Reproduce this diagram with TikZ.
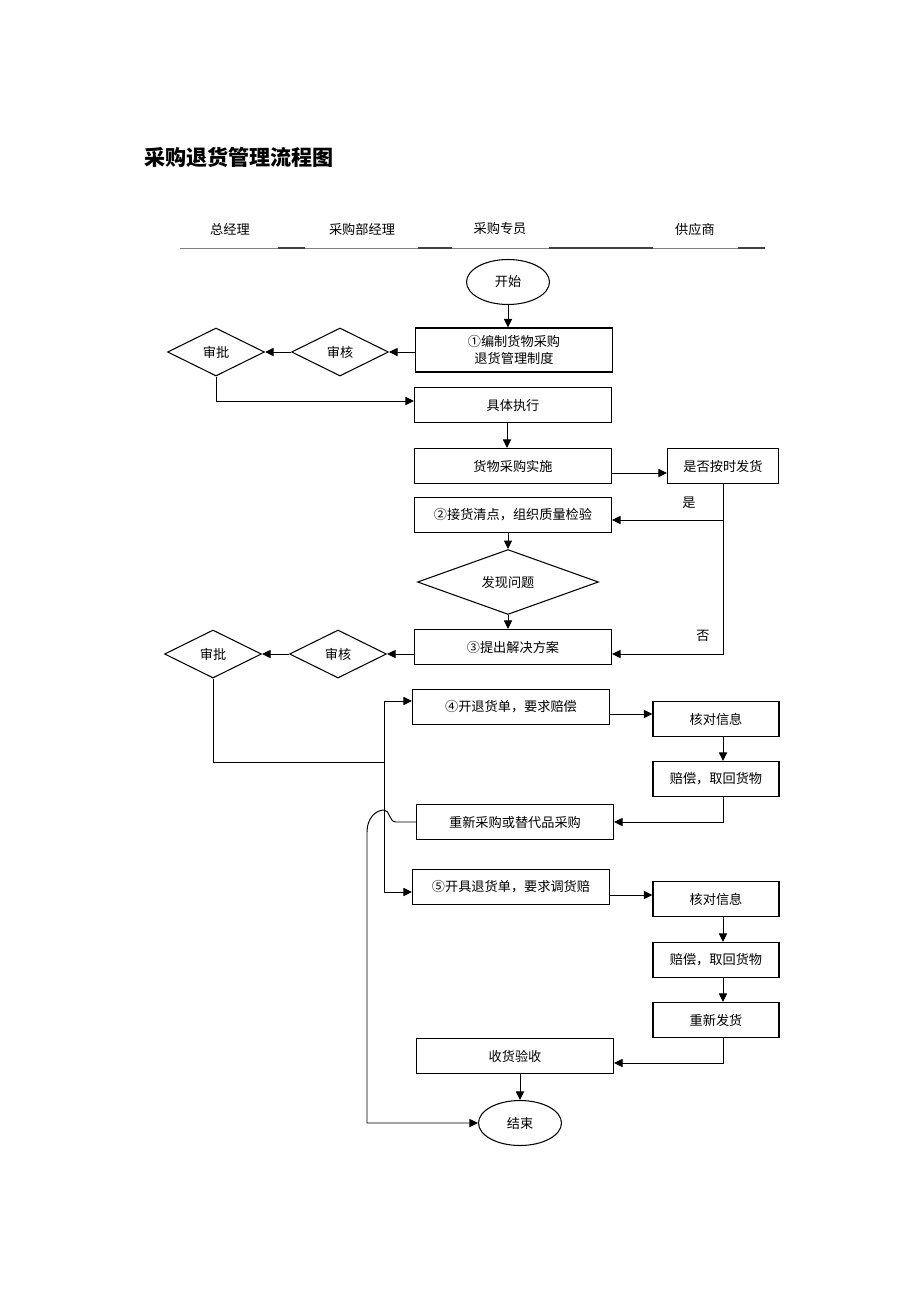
\documentclass[tikz,border=0pt]{standalone}
\usepackage{fontspec}
\setmainfont{Noto Sans CJK SC}
\usepackage{tikz}
\usetikzlibrary{shapes.geometric, arrows.meta, positioning, calc}

\begin{document}
\begin{tikzpicture}[x=0.02cm, y=-0.02cm,
    txt/.style={font=\fontsize{7.5}{10}\selectfont},
    stepbox/.style={rectangle, draw=black, line width=0.6pt, minimum width=3.94cm, minimum height=0.7cm, inner sep=0pt, align=center, txt},
    supbox/.style={rectangle, draw=black, line width=0.6pt, minimum width=2.52cm, minimum height=0.7cm, inner sep=0pt, txt},
    check/.style={diamond, draw=black, line width=0.6pt, minimum width=1.94cm, minimum height=0.96cm, inner sep=0pt, txt},
    terminal/.style={ellipse, draw=black, line width=0.6pt, minimum width=1.66cm, minimum height=0.9cm, inner sep=0pt, txt},
    arrow/.style={-{Triangle[length=1.7mm, width=1.6mm]}, line width=0.55pt}
]
\useasboundingbox (0,0) rectangle (920,1302);

% Title and lanes
\node[anchor=west, font=\fontsize{12}{14}\selectfont\bfseries] (title) at (138,157) {采购退货管理流程图};
\node[txt] (lane-gm) at (230,229) {总经理};
\node[txt] (lane-head) at (362,229) {采购部经理};
\node[txt] (lane-clerk) at (500,229) {采购专员};
\node[txt] (lane-sup) at (695,229) {供应商};
\draw[gray, line width=0.5pt] (180,248) -- (765,248);
\foreach \a/\b in {278/305, 418/452, 549/653, 738/765}
    \draw[black!75, line width=1pt] (\a,248) -- (\b,248);

% Start and rules
\node[terminal] (start) at (508,282) {开始};
\node[stepbox, minimum height=0.88cm] (rules) at (514,350) {①编制货物采购\\退货管理制度};
\node[check] (review1) at (340,352) {审核};
\node[check] (approve1) at (216,352) {审批};
\node[stepbox] (exec) at (513,405) {具体执行};
\node[stepbox] (purchase) at (513,466) {货物采购实施};
\node[supbox, minimum width=2.22cm] (ontime) at (723,466) {是否按时发货};

\draw[arrow] (start.south) -- (start.south |- rules.north);
\draw[arrow] (rules.west |- review1.east) -- (review1.east);
\draw[arrow] (review1.west) -- (approve1.east);
\draw[arrow] (approve1.south) |- ([yshift=0.08cm]exec.west);
\draw[arrow] ([xshift=-0.12cm]exec.south) -- ([xshift=-0.12cm]purchase.north);
\draw[arrow] ([yshift=-0.14cm]purchase.east) -- ([yshift=-0.14cm]ontime.west);

% Receiving and inspection
\node[stepbox] (receive) at (513,515) {②接货清点，组织质量检验};
\node[check, minimum width=3.62cm] (problem) at (508,582) {发现问题};
\node[stepbox] (solve) at (513,647) {③提出解决方案};
\node[check] (review2) at (338,654) {审核};
\node[check] (approve2) at (213,654) {审批};

\draw[arrow] (ontime.south) |- ([yshift=-0.1cm]receive.east);
\node[txt] (yes) at (689,503) {是};
\draw[arrow] (ontime.south) |- ([yshift=-0.14cm]solve.east);
\node[txt] (no) at (703,636) {否};
\draw[arrow] (receive.south -| problem.north) -- (problem.north);
\draw[arrow] (problem.south) -- (problem.south |- solve.north);
\draw[arrow] (solve.west |- review2.east) -- (review2.east);
\draw[arrow] (review2.west) -- (approve2.east);

% Return with compensation
\coordinate (split) at (384,762);
\node[stepbox] (return1) at (511,707) {④开退货单，要求赔偿};
\node[supbox] (verify1) at (716,719) {核对信息};
\node[supbox] (repay1) at (716,779) {赔偿，取回货物};
\node[stepbox] (rebuy) at (515,822) {重新采购或替代品采购};

\draw (approve2.south) |- (split);
\draw[arrow] (split) |- ([yshift=0.12cm]return1.west);
\draw[arrow] ([yshift=-0.14cm]return1.east) -- ([yshift=-0.14cm]return1.east -| verify1.west);
\draw[arrow] ([xshift=0.14cm]verify1.south) -- ([xshift=0.14cm]repay1.north);
\draw[arrow] ([xshift=0.14cm]repay1.south) |- (rebuy.east);

% Return with exchange
\node[stepbox] (return2) at (511,887) {⑤开具退货单，要求调货赔};
\node[supbox] (verify2) at (716,899) {核对信息};
\node[supbox] (repay2) at (716,960) {赔偿，取回货物};
\node[supbox] (resend) at (716,1020) {重新发货};
\node[stepbox] (accept) at (515,1056) {收货验收};
\node[terminal] (finish) at (520,1123) {结束};

\draw[arrow] (split) |- ([yshift=-0.1cm]return2.west);
\draw[arrow] ([yshift=-0.16cm]return2.east) -- ([yshift=-0.16cm]return2.east -| verify2.west);
\draw[arrow] ([xshift=0.14cm]verify2.south) -- ([xshift=0.14cm]repay2.north);
\draw[arrow] ([xshift=0.14cm]repay2.south) -- ([xshift=0.14cm]resend.north);
\draw[arrow] ([xshift=0.14cm]resend.south) |- ([yshift=-0.14cm]accept.east);
\draw[arrow] (accept.south -| finish.north) -- (finish.north);

% Repurchase goes straight to the end (hops over the split line)
\draw[arrow] (rebuy.west) -- (396,822) .. controls (389,822) and (390,810) .. (384,810) .. controls (376,810) and (367,818) .. (367,832) |- (finish.west);
\end{tikzpicture}
\end{document}
